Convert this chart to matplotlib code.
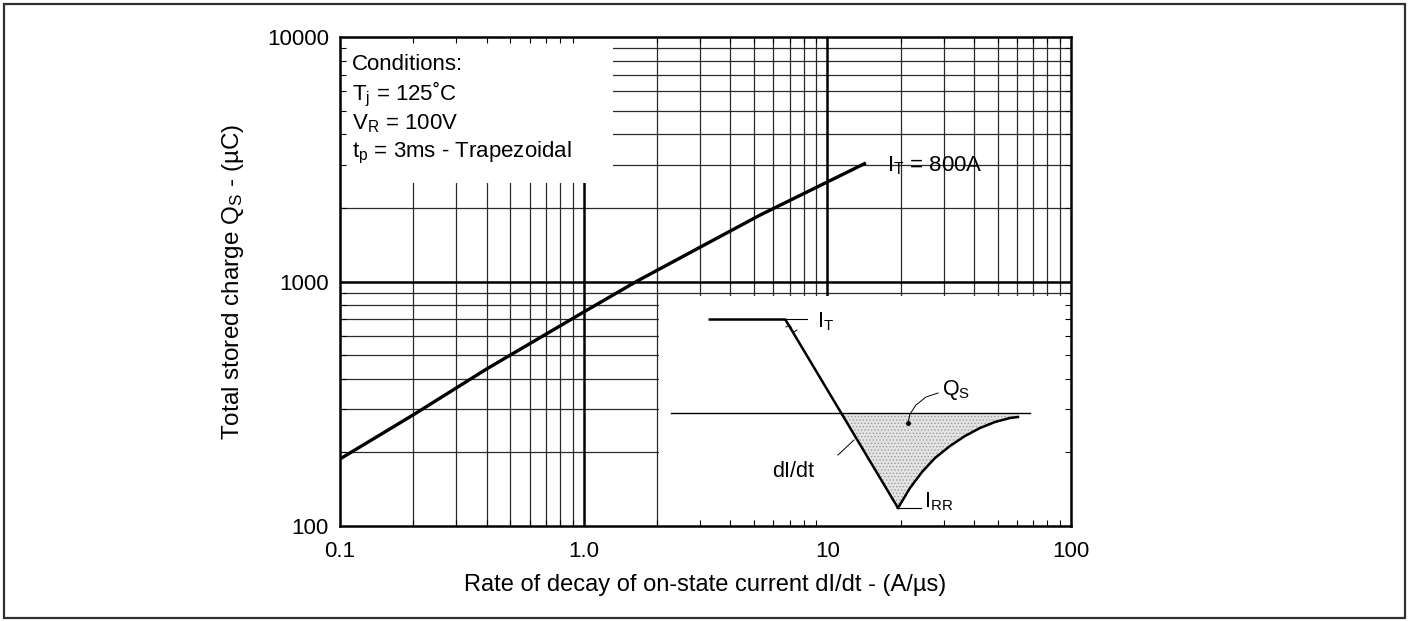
import numpy as np
import matplotlib
matplotlib.use('Agg')
import matplotlib.pyplot as plt
from matplotlib.patches import Rectangle, Polygon
from matplotlib.ticker import FixedLocator, NullFormatter, FixedFormatter

plt.rcParams['font.family'] = ['Liberation Sans', 'DejaVu Sans']
plt.rcParams['mathtext.fontset'] = 'custom'
plt.rcParams['mathtext.rm'] = 'Liberation Sans'
plt.rcParams['mathtext.it'] = 'Liberation Sans:italic'
plt.rcParams['mathtext.default'] = 'regular'
plt.rcParams['hatch.linewidth'] = 0.6

# ---------------- data ----------------
didt = [0.1, 0.2, 0.4, 1.0, 1.66, 3.0, 5.3, 10.0, 14.4]
qs = [188, 285, 439, 750, 1005, 1380, 1870, 2553, 3053]
series_label = r'I$_\mathrm{T}$ = 800A'

xticks = [0.1, 1, 10, 100]
xticklabels = ['0.1', '1.0', '10', '100']
yticks = [100, 1000, 10000]
yticklabels = ['100', '1000', '10000']

conditions = ['Conditions:', r'T$_\mathrm{j}$ = 125˚C', r'V$_\mathrm{R}$ = 100V',
              r't$_\mathrm{p}$ = 3ms - Trapezoidal']

# ---------------- figure ----------------
W, H = 1408, 621
fig = plt.figure(figsize=(W / 100, H / 100), dpi=100)
fig.patch.set_facecolor('white')

# outer frame
fig.add_artist(Rectangle((4 / W, 3 / H), 1401 / W, 614 / H, transform=fig.transFigure,
                         fill=False, lw=1.6, ec='#303030'))

L, R, T, B = 340, 1071, 37, 526
ax = fig.add_axes([L / W, 1 - B / H, (R - L) / W, (B - T) / H])
ax.set_xscale('log')
ax.set_yscale('log')
ax.set_xlim(0.1, 100)
ax.set_ylim(100, 10000)

# grid lines
xminor = [k * 10.0 ** d for d in (-1, 0, 1) for k in range(2, 10)]
yminor = [k * 10.0 ** d for d in (2, 3) for k in range(2, 10)]
ax.vlines(xminor, 100, 10000, color='#2a2a2a', lw=0.9, zorder=1)
ax.hlines(yminor, 0.1, 100, color='#2a2a2a', lw=0.9, zorder=1)
ax.vlines([1, 10], 100, 10000, color='black', lw=1.8, zorder=1.1)
ax.hlines([1000], 0.1, 100, color='black', lw=1.8, zorder=1.1)

# white boxes hiding grid
ax.add_patch(Rectangle((0.1, 2530), 1.32 - 0.1, 10000 - 2530, fc='white', ec='none', zorder=1.5))
ax.add_patch(Rectangle((2.03, 100), 100 - 2.03, 873 - 100, fc='white', ec='none', zorder=1.5))

# curve
ax.plot(didt, qs, color='black', lw=2.4, zorder=3, solid_capstyle='butt')
ax.annotate(series_label, xy=(didt[-1], qs[-1]), xytext=(15, -6), textcoords='offset points',
            va='baseline', ha='left', fontsize=16, zorder=4)

# conditions text (baselines)
cond_y = [0.9325, 0.871, 0.812, 0.753]
for s, yy in zip(conditions, cond_y):
    ax.text(0.0164, yy, s, transform=ax.transAxes, fontsize=16,
            ha='left', va='baseline', zorder=4)

# ticks
ax.xaxis.set_major_locator(FixedLocator(xticks))
ax.xaxis.set_major_formatter(FixedFormatter(xticklabels))
ax.yaxis.set_major_locator(FixedLocator(yticks))
ax.yaxis.set_major_formatter(FixedFormatter(yticklabels))
ax.xaxis.set_minor_locator(FixedLocator(xminor))
ax.yaxis.set_minor_locator(FixedLocator(yminor))
ax.xaxis.set_minor_formatter(NullFormatter())
ax.yaxis.set_minor_formatter(NullFormatter())
ax.tick_params(which='both', direction='in', top=True, right=True)
ax.tick_params(which='major', length=0, labelsize=16)
ax.tick_params(axis='y', which='major', pad=8)
ax.tick_params(axis='x', which='major', pad=11)
ax.tick_params(which='minor', length=4, width=0.8)
for sp in ax.spines.values():
    sp.set_linewidth(1.8)
    sp.set_zorder(5)

ax.set_xlabel('Rate of decay of on-state current dI/dt - (A/µs)', fontsize=17, va='center')
ax.xaxis.set_label_coords(0.5, -0.1207)
ax.set_ylabel(r'Total stored charge Q$_\mathrm{S}$ - (µC)', fontsize=17.5, va='center')
ax.yaxis.set_label_coords(-0.1463, 0.5)

# ---------------- inset schematic (pixel-like coords) ----------------
axi = fig.add_axes([660 / W, 1 - 524 / H, 412 / W, 231 / H])
axi.set_xlim(660, 1072)
axi.set_ylim(524, 293)
axi.axis('off')
axi.patch.set_alpha(0)

it_line_x, it_line_y = [708, 785], [319, 319]
ramp_x, ramp_y = [785, 898], [319, 508]
base_x, base_y = [671, 1030], [413, 413]
rec_x = [898, 910, 922, 935, 950, 965, 980, 995, 1010, 1018]
rec_y = [508, 488, 472, 458, 446, 436, 428, 422, 418, 417]

fill_pts = [(841, 413), (898, 508)] + list(zip(rec_x, rec_y)) + [(1018, 413)]
axi.add_patch(Polygon(fill_pts, closed=True, fc='#e4e4e4', ec='#9a9a9a', lw=0,
                      hatch='.....', zorder=1))

axi.plot(it_line_x, it_line_y, color='black', lw=1.8, solid_capstyle='butt', zorder=3)
axi.plot(ramp_x, ramp_y, color='black', lw=1.8, solid_capstyle='butt', zorder=3)
axi.plot(base_x, base_y, color='black', lw=1.0, zorder=2)
axi.plot(rec_x, rec_y, color='black', lw=1.8, zorder=3)

# break mark on the ramp
axi.plot([786, 789, 791, 792, 794, 797], [327, 325, 327, 330, 332, 330], color='black', lw=0.7, zorder=4)

# leaders
axi.plot([785, 807], [319, 319], color='black', lw=0.8, zorder=3)
axi.plot([898, 921], [508, 508], color='black', lw=0.8, zorder=3)
axi.plot([838, 854], [455, 440], color='black', lw=0.7, zorder=3)
axi.plot([938, 926, 916, 910, 908], [393, 397, 405, 414, 423], color='black', lw=0.7, zorder=3)
axi.plot([908], [423], 'o', color='black', ms=2.5, zorder=4)

axi.text(817, 327, r'I$_\mathrm{T}$', fontsize=15.5, ha='left', va='baseline')
axi.text(942, 395, r'Q$_\mathrm{S}$', fontsize=15.5, ha='left', va='baseline')
axi.text(772, 477, 'dI/dt', fontsize=15.5, ha='left', va='baseline')
axi.text(924, 507, r'I$_\mathrm{RR}$', fontsize=15.5, ha='left', va='baseline')

fig.savefig('out.png', dpi=100)
